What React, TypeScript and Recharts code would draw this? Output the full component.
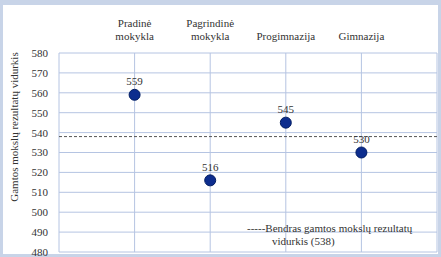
import {
  CartesianGrid,
  ComposedChart,
  LabelList,
  ReferenceLine,
  Scatter,
  XAxis,
  YAxis,
} from "recharts";

const categories = ["Pradinė\nmokykla", "Pagrindinė\nmokykla", "Progimnazija", "Gimnazija"];
const scores = [559, 516, 545, 530];
const overallAverage = 538;
const yTicks = [480, 490, 500, 510, 520, 530, 540, 550, 560, 570, 580];
const xTicks = [0, 1, 2, 3, 4, 5];

const data = categories.map((name, i) => ({ x: i + 1, name, score: scores[i] }));

const FONT = "'Liberation Serif', 'Times New Roman', serif";

function CategoryTick(props: any) {
  const { x, y, payload } = props;
  const idx = payload.value - 1;
  if (idx < 0 || idx >= categories.length) return null;
  const lines = categories[idx].split("\n");
  return (
    <text x={x} textAnchor="middle" fontFamily={FONT} fontSize={11} fill="#333">
      {lines.map((line, i) => (
        <tspan key={i} x={x} y={y - 11 - (lines.length - 1 - i) * 13}>
          {line}
        </tspan>
      ))}
    </text>
  );
}

function Dot(props: any) {
  const { cx, cy } = props;
  return <circle cx={cx} cy={cy} r={5.5} fill="#0d2d8e" stroke="#021d63" strokeWidth={1} />;
}

export default function App() {
  return (
    <div
      style={{
        position: "absolute",
        top: 0,
        left: 0,
        width: 441,
        height: 257,
        background: "#c8d4e8",
        overflow: "hidden",
      }}
    >
      <div
        style={{
          position: "absolute",
          left: 3,
          top: 5,
          width: 435,
          height: 249,
          background: "#fff",
        }}
      />
      <ComposedChart
        width={441}
        height={257}
        data={data}
        margin={{ top: 0, right: 4, bottom: 5, left: 0 }}
        style={{ position: "absolute", top: 0, left: 0 }}
      >
        <CartesianGrid stroke="#b5c4e2" strokeWidth={1} />
        <XAxis
          type="number"
          dataKey="x"
          orientation="top"
          domain={[0, 5]}
          ticks={xTicks}
          height={53}
          axisLine={false}
          tickLine={false}
          tickSize={0}
          tick={<CategoryTick />}
          interval={0}
        />
        <YAxis
          type="number"
          domain={[480, 580]}
          ticks={yTicks}
          width={59}
          axisLine={false}
          tickLine={false}
          tickSize={0}
          tickMargin={11}
          interval={0}
          tick={{ fontFamily: FONT, fontSize: 11, fill: "#333" }}
        />
        <ReferenceLine
          y={overallAverage}
          stroke="#555"
          strokeWidth={1}
          strokeDasharray="3 2"
        />
        <Scatter dataKey="score" shape={<Dot />} isAnimationActive={false}>
          <LabelList
            dataKey="score"
            position="top"
            offset={5}
            style={{ fontFamily: FONT, fontSize: 11, fill: "#333" }}
          />
        </Scatter>
      </ComposedChart>
      <div
        style={{
          position: "absolute",
          left: 247,
          top: 222,
          fontFamily: FONT,
          fontSize: 11,
          lineHeight: "13px",
          color: "#333",
          whiteSpace: "nowrap",
        }}
      >
        -----Bendras gamtos mokslų rezultatų
        <br />
        <span style={{ paddingLeft: 25 }}>vidurkis (538)</span>
      </div>
      <div
        style={{
          position: "absolute",
          left: 14,
          top: 127,
          transform: "translate(-50%, -50%) rotate(-90deg)",
          fontFamily: FONT,
          fontSize: 11,
          color: "#333",
          whiteSpace: "nowrap",
        }}
      >
        Gamtos mokslų rezultatų vidurkis
      </div>
    </div>
  );
}
